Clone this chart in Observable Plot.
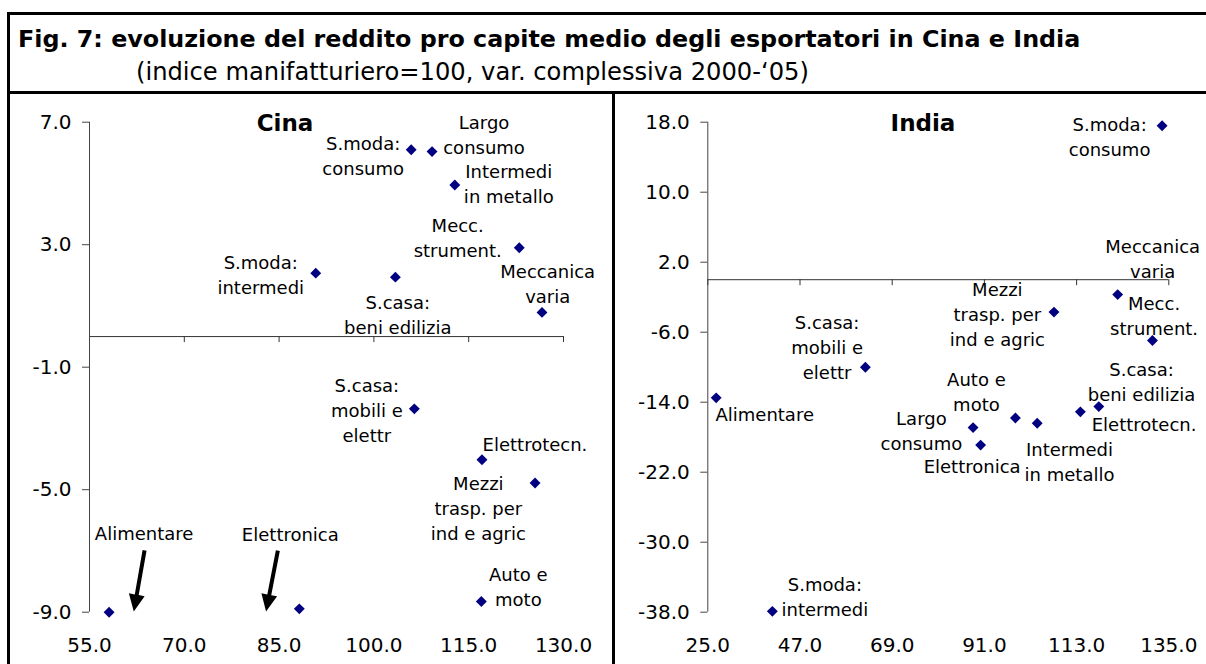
<!DOCTYPE html>
<html>
<head>
<meta charset="utf-8">
<script src="https://cdn.jsdelivr.net/npm/d3@7"></script>
<script src="https://cdn.jsdelivr.net/npm/@observablehq/plot@0.6"></script>
<style>
  html, body { margin: 0; padding: 0; background: #fff; }
  body { width: 1206px; height: 664px; position: relative; overflow: hidden;
         font-family: "DejaVu Sans", Verdana, sans-serif; color: #000; }
  .rule { position: absolute; background: #000; z-index: 5; }
  .head { position: absolute; white-space: nowrap; line-height: 28px; }
  #title { left: 18px; top: 25px; font-size: 23.8px; font-weight: bold; }
  #subtitle { left: 136px; top: 58px; font-size: 24.2px; }
  .panel { position: absolute; top: 92px; }
</style>
</head>
<body>
<div class="head" id="title">Fig. 7: evoluzione del reddito pro capite medio degli esportatori in Cina e India</div>
<div class="head" id="subtitle">(indice manifatturiero=100, var. complessiva 2000-‘05)</div>
<div class="panel" id="cina" style="left:8px"></div>
<div class="panel" id="india" style="left:613px"></div>
<div class="rule" style="left:7px;top:12px;width:1220px;height:3px"></div>
<div class="rule" style="left:7px;top:12px;width:3px;height:680px"></div>
<div class="rule" style="left:7px;top:91px;width:1220px;height:3px"></div>
<div class="rule" style="left:612px;top:91px;width:3px;height:600px"></div>
<script>
// Sectors (data labels, with their line breaks)
const sectors = [
  "Alimentare", "Auto e\nmoto", "Elettronica", "Elettrotecn.",
  "Intermedi\nin metallo", "Largo\nconsumo", "Meccanica\nvaria", "Mecc.\nstrument.",
  "Mezzi\ntrasp. per\nind e agric", "S.casa:\nbeni edilizia", "S.casa:\nmobili e\nelettr",
  "S.moda:\nconsumo", "S.moda:\nintermedi"
];

// Cina: relative per-capita income of exporters (x) and total change 2000-'05 (y)
const cinaLevel  = [58.1, 117.0, 88.2, 117.1, 112.8, 109.2, 126.6, 123.0, 125.5, 103.4, 106.4, 105.9, 90.8];
const cinaChange = [-9.0, -8.65, -8.89, -4.02, 4.95, 6.04, 0.79, 2.9, -4.78, 1.94, -2.36, 6.1, 2.07];

// India
const indiaLevel  = [27.0, 98.4, 90.1, 113.9, 103.6, 88.3, 122.8, 131.1, 107.6, 118.3, 62.6, 133.4, 40.4];
const indiaChange = [-13.5, -15.8, -18.9, -15.1, -16.4, -16.9, -1.7, -6.95, -3.7, -14.5, -10.0, 17.6, -37.9];

// Axis ticks
const cinaXTicks  = [55, 70, 85, 100, 115, 130];
const cinaYTicks  = [7, 3, -1, -5, -9];
const indiaXTicks = [25, 47, 69, 91, 113, 135];
const indiaYTicks = [18, 10, 2, -6, -14, -22, -30, -38];

// Sectors whose labels in the Cina panel are tied to the point by an arrow
const cinaArrowed = ["Alimentare", "Elettronica"];

// Label placement around each point (pixel offsets, text anchor)
const cinaPlacement = {
  "Alimentare": [35, -80, "middle"],
  "Auto e\nmoto": [37, -15.5, "middle"],
  "Elettronica": [-9, -75.6, "middle"],
  "Elettrotecn.": [53, -16.3, "middle"],
  "Intermedi\nin metallo": [54, -2.6, "middle"],
  "Largo\nconsumo": [52, -18, "middle"],
  "Meccanica\nvaria": [5.7, -30, "middle"],
  "Mecc.\nstrument.": [-61.6, -11.5, "middle"],
  "Mezzi\ntrasp. per\nind e agric": [-56.7, 23.6, "middle"],
  "S.casa:\nbeni edilizia": [2.4, 36.3, "middle"],
  "S.casa:\nmobili e\nelettr": [-47.5, 0, "middle"],
  "S.moda:\nconsumo": [-48, 5, "middle"],
  "S.moda:\nintermedi": [-55, 0, "middle"]
};
const indiaPlacement = {
  "Alimentare": [-0.7, 15, "start"],
  "Auto e\nmoto": [-39, -27.7, "middle"],
  "Elettronica": [-8.5, 20, "middle"],
  "Elettrotecn.": [63.7, 11, "middle"],
  "Intermedi\nin metallo": [32.3, 37.5, "middle"],
  "Largo\nconsumo": [-51.7, 1.8, "middle"],
  "Meccanica\nvaria": [35, -37, "middle"],
  "Mecc.\nstrument.": [1.6, -26.3, "middle"],
  "Mezzi\ntrasp. per\nind e agric": [-56.6, 1.3, "middle"],
  "S.casa:\nbeni edilizia": [42.7, -26, "middle"],
  "S.casa:\nmobili e\nelettr": [-38.3, -21.7, "middle"],
  "S.moda:\nconsumo": [-52.5, 10, "middle"],
  "S.moda:\nintermedi": [52.5, -16.3, "middle"]
};

// Filled arrow: thin shaft plus a solid triangular head, drawn pointing up
const solidArrow = {
  draw(context, l) {
    const h = 17, w = 8, s = 2;
    context.moveTo(-s, 0);
    context.lineTo(-s, -(l - h));
    context.lineTo(-w, -(l - h));
    context.lineTo(0, -l);
    context.lineTo(w, -(l - h));
    context.lineTo(s, -(l - h));
    context.lineTo(s, 0);
    context.closePath();
  }
};

const fmt = d => d.toFixed(1);

function scatter({level, change, xTicks, yTicks, title, titleDx, placement,
                  width, marginLeft, marginRight, arrows = []}) {
  const rows = sectors.map((s, i) => ({label: s, x: level[i], y: change[i]}));
  const xDomain = [xTicks[0], xTicks[xTicks.length - 1]];
  const yDomain = [yTicks[yTicks.length - 1], yTicks[0]];
  const labelMarks = rows.map(r => {
    const [dx, dy, anchor] = placement[r.label];
    return Plot.text([r], {
      x: "x", y: "y", text: "label", dx, dy, textAnchor: anchor,
      lineAnchor: "middle", lineHeight: 1.39, fontSize: 18, fill: "#000"
    });
  });
  const arrowMarks = arrows.map(a => Plot.vector(rows.filter(r => r.label === a.label), {
    x: "x", y: "y", length: 62, rotate: a.rotate, anchor: "end",
    dx: a.dx, dy: a.dy, shape: solidArrow, fill: "#000", stroke: "none"
  }));
  return Plot.plot({
    width, height: 572,
    marginLeft, marginRight, marginTop: 29.7, marginBottom: 52.3,
    style: {background: "transparent", fontFamily: "DejaVu Sans, Verdana, sans-serif", fontSize: "20px", color: "#000"},
    x: {domain: xDomain},
    y: {domain: yDomain},
    marks: [
      // horizontal axis through zero, with its tick marks hanging below
      Plot.ruleY([0], {stroke: "#333"}),
      Plot.ruleX(xTicks, {x: d => d, y1: 0, y2: 0, insetBottom: -6, stroke: "#333"}),
      // vertical axis line
      Plot.ruleX([xDomain[0]], {stroke: "#444"}),
      Plot.axisY({ticks: yTicks, tickFormat: fmt, tickSize: 7, tickPadding: 11, label: null, stroke: "#444"}),
      Plot.axisX({ticks: xTicks, tickFormat: fmt, tickSize: 0, tickPadding: 26, label: null}),
      ...arrowMarks,
      Plot.dot(rows, {x: "x", y: "y", symbol: "diamond2", r: 4.9, fill: "#000080", stroke: "none"}),
      ...labelMarks,
      Plot.text([title], {frameAnchor: "top", dx: titleDx, dy: 1.3, lineAnchor: "middle",
                          fontSize: 23, fontWeight: "bold", fill: "#000"})
    ]
  });
}

document.getElementById("cina").append(scatter({
  level: cinaLevel, change: cinaChange, xTicks: cinaXTicks, yTicks: cinaYTicks,
  title: "Cina", titleDx: -41.5, placement: cinaPlacement,
  width: 605, marginLeft: 81, marginRight: 50,
  arrows: [
    {label: cinaArrowed[0], dx: 24.7, dy: -0.7, rotate: 190},
    {label: cinaArrowed[1], dx: -33.3, dy: 2.7, rotate: 191}
  ]
}));

document.getElementById("india").append(scatter({
  level: indiaLevel, change: indiaChange, xTicks: indiaXTicks, yTicks: indiaYTicks,
  title: "India", titleDx: -15.3, placement: indiaPlacement,
  width: 593, marginLeft: 94.3, marginRight: 37.7
}));
</script>
</body>
</html>
